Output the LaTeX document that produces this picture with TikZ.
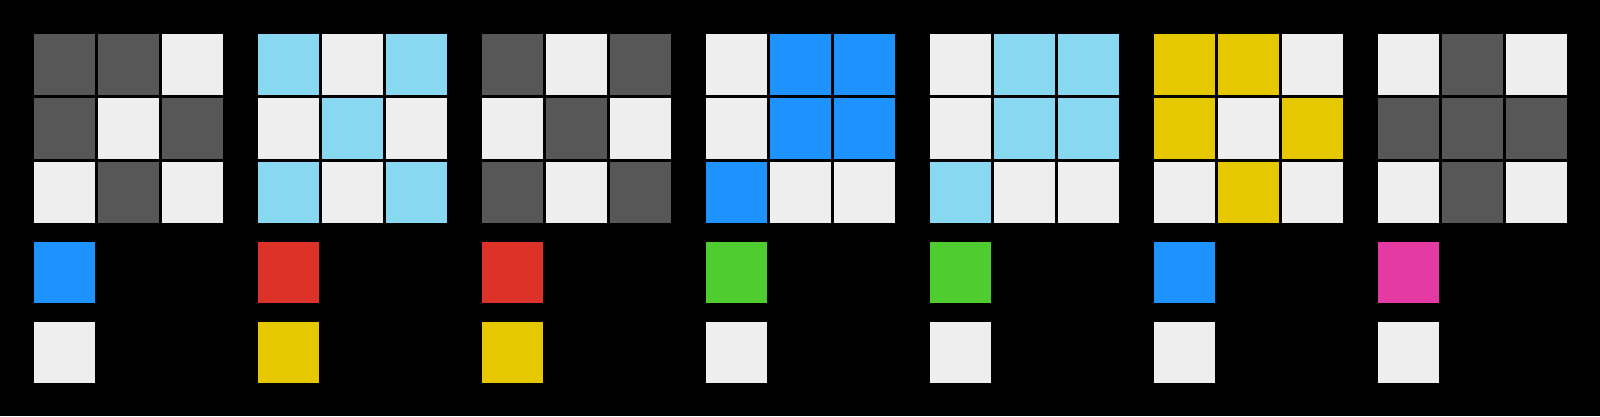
\documentclass[tikz,border=0pt]{standalone}
\definecolor{cD}{HTML}{575757}
\definecolor{cW}{HTML}{EEEEEE}
\definecolor{cL}{HTML}{88D8F1}
\definecolor{cB}{HTML}{1E93FF}
\definecolor{cR}{HTML}{DC3228}
\definecolor{cY}{HTML}{E6C800}
\definecolor{cG}{HTML}{4FCC30}
\definecolor{cM}{HTML}{E53AA3}
\begin{document}
\begin{tikzpicture}[x=1pt,y=-1pt]
        \def\s{61}
        \def\d{64}
        %% background
        \fill[black] (0,0) rectangle (1600,416);
        %% panels: grid, then two swatches
        \foreach \p/\g/\u/\v in {0/{D,D,W,D,W,D,W,D,W}/B/W,
                                 1/{L,W,L,W,L,W,L,W,L}/R/Y,
                                 2/{D,W,D,W,D,W,D,W,D}/R/Y,
                                 3/{W,B,B,W,B,B,B,W,W}/G/W,
                                 4/{W,L,L,W,L,L,L,W,W}/G/W,
                                 5/{Y,Y,W,Y,W,Y,W,Y,W}/B/W,
                                 6/{W,D,W,D,D,D,W,D,W}/M/W}{
            \foreach \c [count=\i from 0] in \g {
                \pgfmathtruncatemacro\col{mod(\i,3)}
                \pgfmathtruncatemacro\row{\i/3}
                \fill[c\c] ({34+224*\p+\d*\col},{34+\d*\row}) rectangle ++(\s,\s);
            }
            \fill[c\u] ({34+224*\p},242) rectangle ++(\s,\s);
            \fill[c\v] ({34+224*\p},322) rectangle ++(\s,\s);
        }
\end{tikzpicture}
\end{document}
